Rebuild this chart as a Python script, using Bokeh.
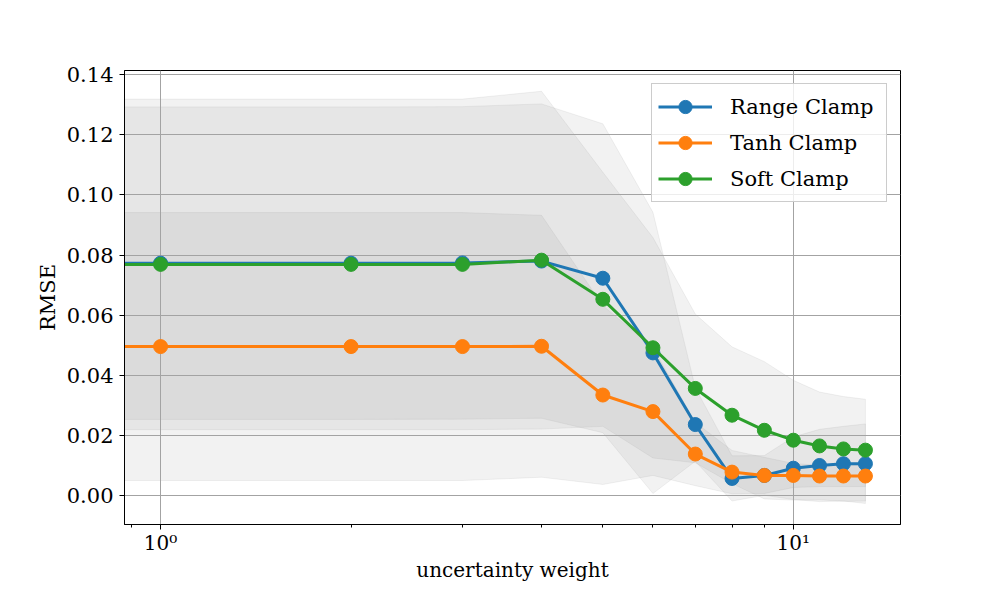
import numpy as np
from bokeh.plotting import figure
from bokeh.models import (Range1d, FixedTicker, SingleIntervalTicker, PrintfTickFormatter,
                          CustomJSTickFormatter, Legend, LegendItem)
from bokeh.embed import file_html
from bokeh.resources import INLINE

# ---------------- data ----------------
weights = [0, 1, 2, 3, 4, 5, 6, 7, 8, 9, 10, 11, 12, 13]

range_mean = [0.0773, 0.0773, 0.0773, 0.0774, 0.0780, 0.0723, 0.0475, 0.0237, 0.0058, 0.0068, 0.0092, 0.0101, 0.0107, 0.0107]
range_std  = [0.0519, 0.0519, 0.0519, 0.0519, 0.0522, 0.0513, 0.0467, 0.0122, 0.0075, 0.0066, 0.0104, 0.0120, 0.0124, 0.0132]

tanh_mean = [0.0496, 0.0496, 0.0496, 0.0496, 0.0497, 0.0335, 0.0280, 0.0139, 0.0079, 0.0068, 0.0068, 0.0066, 0.0066, 0.0066]
tanh_std  = [0.0445, 0.0445, 0.0445, 0.0445, 0.0435, 0.0297, 0.0212, 0.0105, 0.0072, 0.0060, 0.0040, 0.0035, 0.0035, 0.0035]

soft_mean = [0.0769, 0.0769, 0.0769, 0.0769, 0.0783, 0.0653, 0.0492, 0.0357, 0.0268, 0.0218, 0.0185, 0.0166, 0.0156, 0.0152]
soft_std  = [0.0549, 0.0549, 0.0549, 0.0549, 0.0561, 0.0422, 0.0366, 0.0247, 0.0227, 0.0228, 0.0199, 0.0179, 0.0174, 0.0169]

series_names = ["Range Clamp", "Tanh Clamp", "Soft Clamp"]
series_colors = ["#1f77b4", "#ff7f0e", "#2ca02c"]

x_major_ticks = [1, 10]
y_tick_interval = 0.02
x_title = "uncertainty weight"
y_title = "RMSE"

FONT = "DejaVu Serif"
FS = "21px"
FS_X = "20px"

# weight 0 cannot be shown on a log axis: clip it far to the left (like matplotlib)
x_plot = [w if w > 0 else 1e-3 for w in weights]

p = figure(width=984, height=584,
           x_axis_type="log",
           x_range=Range1d(0.877, 14.77), y_range=Range1d(-0.0095, 0.1413),
           output_backend="svg", toolbar_location=None,
           min_border_left=124, min_border_right=84, min_border_top=70, min_border_bottom=50)
p.background_fill_color = "white"
p.border_fill_color = "white"
p.outline_line_color = "black"
p.outline_line_width = 1
p.outline_line_alpha = 1

# ---------------- bands ----------------
for m, s in [(range_mean, range_std), (tanh_mean, tanh_std), (soft_mean, soft_std)]:
    up = [a + b for a, b in zip(m, s)]
    lo = [a - b for a, b in zip(m, s)]
    p.patch(x_plot + x_plot[::-1], up + lo[::-1],
            fill_color="gray", fill_alpha=0.1,
            line_color="gray", line_alpha=0.1, line_width=1, level="image")

# ---------------- lines ----------------
items = []
for name, m, c in zip(series_names, [range_mean, tanh_mean, soft_mean], series_colors):
    l = p.line(x_plot, m, line_color=c, line_width=3)
    s = p.scatter(x_plot, m, size=14, fill_color=c, line_color=c, line_width=1)
    items.append(LegendItem(label=name, renderers=[l, s]))

legend = Legend(items=items, location="top_right",
                label_text_font=FONT, label_text_font_size=FS, label_text_color="black",
                glyph_width=54, glyph_height=33, label_standoff=18,
                label_width=150, spacing=3, padding=6, margin=13,
                border_line_color="#cccccc", border_line_alpha=1, border_line_width=1,
                background_fill_color="white", background_fill_alpha=0.8)
p.add_layout(legend)

# ---------------- grid ----------------
p.grid.grid_line_color = "#a3a3a3"
p.grid.grid_line_width = 1

# ---------------- axes ----------------
minor = [k * 10.0 ** d for d in (-1, 0, 1) for k in range(2, 10)]
p.xaxis.ticker = FixedTicker(ticks=x_major_ticks, minor_ticks=minor)
p.xaxis.formatter = CustomJSTickFormatter(code="""
    const sup = {'0':'\u2070','1':'\u00b9','2':'\u00b2','3':'\u00b3','-':'\u207b'};
    const e = String(Math.round(Math.log10(tick)));
    let s = '';
    for (const ch of e) { s += sup[ch]; }
    return '10' + s;
""")
p.yaxis.ticker = SingleIntervalTicker(interval=y_tick_interval, num_minor_ticks=0)
p.yaxis.formatter = PrintfTickFormatter(format="%.2f")

for ax in (p.xaxis[0], p.yaxis[0]):
    ax.axis_line_color = "black"
    ax.major_tick_line_color = "black"
    ax.minor_tick_line_color = "black"
    ax.major_tick_out = 5
    ax.major_tick_in = 0
    ax.minor_tick_out = 3
    ax.minor_tick_in = 0
    ax.major_label_text_font = FONT
    ax.major_label_text_font_size = FS
    ax.major_label_text_color = "black"
    ax.axis_label_text_font = FONT
    ax.axis_label_text_font_size = FS
    ax.axis_label_text_font_style = "normal"
    ax.axis_label_text_color = "black"

p.yaxis.minor_tick_line_color = None
p.xaxis.major_label_text_font_size = FS_X
p.xaxis.axis_label_text_font_size = FS_X
p.xaxis.axis_label = x_title
p.yaxis.axis_label = y_title
p.xaxis.major_label_standoff = 1
p.xaxis.axis_label_standoff = 0
p.yaxis.major_label_standoff = 6
p.yaxis.axis_label_standoff = 4

open("out.html", "w").write(file_html(p, INLINE))
